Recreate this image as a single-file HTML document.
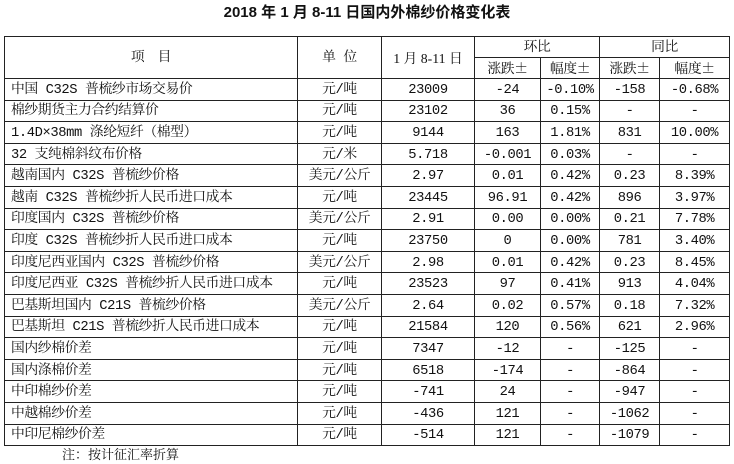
<!DOCTYPE html>
<html><head><meta charset="utf-8"><style>
body{margin:0;width:734px;height:464px;background:#fff;position:relative;overflow:hidden;font-family:"Liberation Mono","Noto Serif CJK SC",serif;color:#111}
.t{position:absolute;top:3px;left:0;width:734px;text-align:center;font:bold 15px "Liberation Sans","Noto Sans CJK SC",sans-serif;line-height:20px}
table{position:absolute;left:4px;top:36px;border-collapse:collapse;table-layout:fixed;width:725px;font-size:13.8px;letter-spacing:-0.4px}
td{border:1px solid #222;padding:2px 0 0 0;text-align:center;white-space:nowrap;overflow:hidden;line-height:15px}
tr{height:21.6px}
tr.h{height:21px}
td.l{text-align:left;padding-left:6px}
.p{font-family:"Liberation Serif","Noto Serif CJK SC",serif;letter-spacing:0}
.q{font-family:"Noto Serif CJK SC",serif}
.n{position:absolute;left:62px;top:445px;font-size:13px;line-height:18px;font-family:"Noto Serif CJK SC",serif}
</style></head><body>
<div class="t">2018 年 1 月 8-11 日国内外棉纱价格变化表</div>
<table>
<colgroup><col style="width:293px"><col style="width:84px"><col style="width:93px"><col style="width:66px"><col style="width:59px"><col style="width:60px"><col style="width:70px"></colgroup>
<tr class="h"><td rowspan="2">项　目</td><td rowspan="2">单 位</td><td rowspan="2" class="p">1 月 8-11 日</td><td colspan="2">环比</td><td colspan="2">同比</td></tr>
<tr class="h"><td>涨跌<span class="q">±</span></td><td>幅度<span class="q">±</span></td><td>涨跌<span class="q">±</span></td><td>幅度<span class="q">±</span></td></tr>
<tr><td class="l">中国 C32S 普梳纱市场交易价</td><td>元/吨</td><td>23009</td><td>-24</td><td>-0.10%</td><td>-158</td><td>-0.68%</td></tr>
<tr><td class="l">棉纱期货主力合约结算价</td><td>元/吨</td><td>23102</td><td>36</td><td>0.15%</td><td>-</td><td>-</td></tr>
<tr><td class="l">1.4D×38mm 涤纶短纤（棉型）</td><td>元/吨</td><td>9144</td><td>163</td><td>1.81%</td><td>831</td><td>10.00%</td></tr>
<tr><td class="l">32 支纯棉斜纹布价格</td><td>元/米</td><td>5.718</td><td>-0.001</td><td>0.03%</td><td>-</td><td>-</td></tr>
<tr><td class="l">越南国内 C32S 普梳纱价格</td><td>美元/公斤</td><td>2.97</td><td>0.01</td><td>0.42%</td><td>0.23</td><td>8.39%</td></tr>
<tr><td class="l">越南 C32S 普梳纱折人民币进口成本</td><td>元/吨</td><td>23445</td><td>96.91</td><td>0.42%</td><td>896</td><td>3.97%</td></tr>
<tr><td class="l">印度国内 C32S 普梳纱价格</td><td>美元/公斤</td><td>2.91</td><td>0.00</td><td>0.00%</td><td>0.21</td><td>7.78%</td></tr>
<tr><td class="l">印度 C32S 普梳纱折人民币进口成本</td><td>元/吨</td><td>23750</td><td>0</td><td>0.00%</td><td>781</td><td>3.40%</td></tr>
<tr><td class="l">印度尼西亚国内 C32S 普梳纱价格</td><td>美元/公斤</td><td>2.98</td><td>0.01</td><td>0.42%</td><td>0.23</td><td>8.45%</td></tr>
<tr><td class="l">印度尼西亚 C32S 普梳纱折人民币进口成本</td><td>元/吨</td><td>23523</td><td>97</td><td>0.41%</td><td>913</td><td>4.04%</td></tr>
<tr><td class="l">巴基斯坦国内 C21S 普梳纱价格</td><td>美元/公斤</td><td>2.64</td><td>0.02</td><td>0.57%</td><td>0.18</td><td>7.32%</td></tr>
<tr><td class="l">巴基斯坦 C21S 普梳纱折人民币进口成本</td><td>元/吨</td><td>21584</td><td>120</td><td>0.56%</td><td>621</td><td>2.96%</td></tr>
<tr><td class="l">国内纱棉价差</td><td>元/吨</td><td>7347</td><td>-12</td><td>-</td><td>-125</td><td>-</td></tr>
<tr><td class="l">国内涤棉价差</td><td>元/吨</td><td>6518</td><td>-174</td><td>-</td><td>-864</td><td>-</td></tr>
<tr><td class="l">中印棉纱价差</td><td>元/吨</td><td>-741</td><td>24</td><td>-</td><td>-947</td><td>-</td></tr>
<tr><td class="l">中越棉纱价差</td><td>元/吨</td><td>-436</td><td>121</td><td>-</td><td>-1062</td><td>-</td></tr>
<tr><td class="l">中印尼棉纱价差</td><td>元/吨</td><td>-514</td><td>121</td><td>-</td><td>-1079</td><td>-</td></tr>
</table>
<div class="n">注：按计征汇率折算</div>
</body></html>
